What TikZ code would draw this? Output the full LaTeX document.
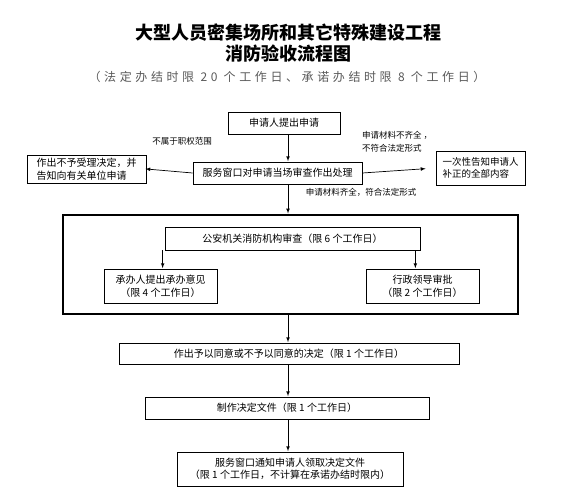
\documentclass[tikz,border=0pt]{standalone}
\usepackage{fontspec}
\setmainfont{Noto Sans CJK SC}
\usepackage{tikz}
\usetikzlibrary{positioning, arrows}
\usepackage{xcolor}

\begin{document}
\begin{tikzpicture}[x=1pt, y=-1pt, >=latex, shorten >=0.5pt,
    box/.style={draw, line width=0.7pt, inner sep=0pt, minimum height=22pt,
        font=\fontsize{10}{12.5}\selectfont},
    note/.style={inner sep=0pt, font=\fontsize{8.5}{13}\selectfont}]
    \useasboundingbox (0,0) rectangle (561,500);

    % heading
    \node (head) at (288,33) {\fontsize{18}{20}\selectfont\bfseries 大型人员密集场所和其它特殊建设工程};
    \node (headb) at (288,54) {\fontsize{18}{20}\selectfont\bfseries 消防验收流程图};
    \node[text=black!65] (limits) at (287,77)
        {\fontsize{12}{14}\selectfont\addfontfeature{LetterSpace=30}（法定办结时限 20 个工作日、承诺办结时限 8 个工作日）};

    \coordinate (axis) at (288,0);

    % reception at the service window
    \node[box, minimum width=112pt] (apply) at (284,123) {申请人提出申请};
    \node[box, minimum width=169pt] (window) at (277.5,173) {服务窗口对申请当场审查作出处理};
    \node[box, minimum width=119pt, minimum height=28pt, align=left] (reject) at (86.5,169)
        {作出不予受理决定，并\\告知向有关单位申请};
    \node[box, minimum width=89pt, minimum height=34pt, align=left,
        font=\fontsize{9.5}{12.5}\selectfont] (notify) at (480.5,168)
        {一次性告知申请人\\补正的全部内容};
    \node[note] (scope) at (182,141) {不属于职权范围};
    \node[note, anchor=west, align=left] (lack) at (362,141.5) {申请材料不齐全 ，\\不符合法定形式};
    \node[note] (full) at (361,192) {申请材料齐全，符合法定形式};

    % review stage
    \node[draw, line width=2pt, inner sep=0pt, minimum width=455pt, minimum height=99pt] (stage) at (290.5,264.5) {};
    \node[box, minimum width=255pt, minimum height=23pt] (review) at (292.5,238.5) {公安机关消防机构审查（限 6 个工作日）};
    \node[box, minimum width=113pt, minimum height=34pt, align=center] (handler) at (160.5,286)
        {承办人提出承办意见\\（限 4 个工作日）};
    \node[box, minimum width=113pt, minimum height=34pt, align=center] (leader) at (422.5,286)
        {行政领导审批\\（限 2 个工作日）};

    % decision and delivery
    \node[box, minimum width=340pt, minimum height=21pt] (decide) at (289,353.5) {作出予以同意或不予以同意的决定（限 1 个工作日）};
    \node[box, minimum width=284pt] (paper) at (287,408) {制作决定文件（限 1 个工作日）};
    \node[box, minimum width=226pt, minimum height=34pt, align=center] (collect) at (290,469)
        {服务窗口通知申请人领取决定文件\\（限 1 个工作日，不计算在承诺办结时限内）};

    \path[->, line width=0.7pt]
        (apply.south -| axis) edge (window.north -| axis)
        (window.west) edge[shorten >=-1pt] (reject.east)
        (window.east) edge[shorten >=10pt] (notify.west)
        (window.south -| axis) edge (stage.north -| axis)
        ([xshift=-2pt]review.south west) edge ([xshift=-2pt]review.south west |- handler.north)
        ([xshift=-5pt]review.south east) edge ([xshift=-5pt]review.south east |- leader.north)
        (stage.south -| axis) edge (decide.north -| axis)
        (decide.south -| axis) edge (paper.north -| axis)
        (paper.south -| axis) edge (collect.north -| axis);
\end{tikzpicture}
\end{document}
